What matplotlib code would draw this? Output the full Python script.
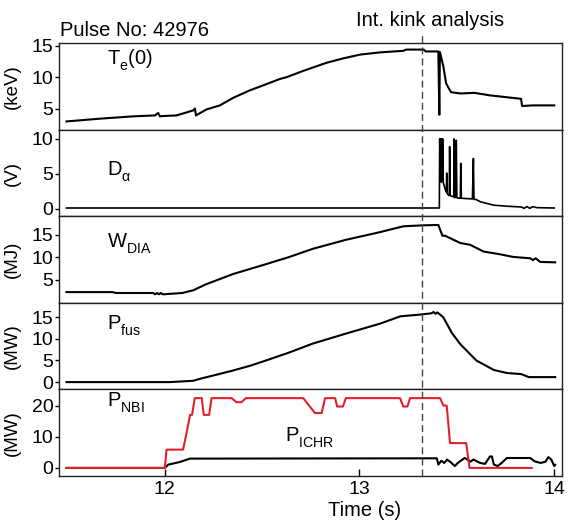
import matplotlib
matplotlib.use("Agg")
import matplotlib.pyplot as plt
from matplotlib.lines import Line2D
from matplotlib.transforms import blended_transform_factory

plt.rcParams['font.family'] = ['Liberation Sans', 'DejaVu Sans']
plt.rcParams['mathtext.fontset'] = 'custom'
plt.rcParams['mathtext.rm'] = 'Liberation Sans'
plt.rcParams['mathtext.it'] = 'Liberation Sans:italic'

# subscripts in the original sit quite low, push them down a bit
try:
    import matplotlib._mathtext as _mt
    _mt.FontConstantsBase.sub1 = 0.55
    _mt.FontConstantsBase.sub2 = 0.75
except Exception:
    pass

# --- data (time in s) ---
te_t = [11.495, 11.666, 11.837, 11.95, 11.966, 11.975, 11.99, 12.06, 12.146, 12.155, 12.16,
        12.214, 12.283, 12.351, 12.437, 12.523, 12.59, 12.626, 12.711, 12.831, 12.917,
        13.003, 13.105, 13.225, 13.24, 13.33, 13.34, 13.405, 13.41, 13.413, 13.418,
        13.431, 13.445, 13.47, 13.52, 13.59, 13.67, 13.77, 13.83, 13.835, 13.89, 14.0]
te_val = [2.94, 3.38, 3.75, 3.9, 4.3, 3.75, 3.8, 3.9, 4.7, 5.0, 3.9,
          4.85, 5.5, 6.7, 7.9, 8.9, 9.7, 10.0, 11.0, 12.3, 13.0,
          13.6, 13.95, 14.2, 14.4, 14.4, 14.1, 14.1, 4.0, 14.0, 13.4,
          11.65, 9.0, 7.6, 7.4, 7.5, 7.1, 6.75, 6.55, 5.4, 5.5, 5.5]

da_t = [11.495, 13.41, 13.412, 13.415, 13.417, 13.42, 13.422, 13.425, 13.427, 13.43,
        13.44, 13.446, 13.448, 13.45, 13.455, 13.461, 13.463, 13.466, 13.472, 13.484,
        13.486, 13.489, 13.495, 13.497, 13.5, 13.51, 13.518, 13.52, 13.523, 13.55,
        13.58, 13.585, 13.588, 13.6, 13.62, 13.69, 13.76, 13.83, 13.845, 13.86,
        13.875, 13.89, 13.91, 14.0]
da_val = [0.1, 0.1, 10, 4.0, 10, 3.8, 10, 4.2, 10, 3.8,
          2.8, 2.4, 5.1, 2.2, 2.0, 1.9, 8.9, 1.9, 1.8, 1.7,
          10, 1.6, 1.6, 9.8, 1.6, 1.5, 1.5, 6.5, 1.5, 1.45,
          1.4, 7.2, 1.35, 1.3, 1.0, 0.5, 0.35, 0.25, 0.05, 0.3,
          0.05, 0.3, 0.15, 0.1]

w_t = [11.495, 11.73, 11.75, 11.94, 11.95, 11.96, 11.97, 11.98, 11.99, 12.09, 12.146,
       12.21, 12.35, 12.52, 12.64, 12.76, 12.93, 13.105, 13.225, 13.32, 13.405,
       13.426, 13.44, 13.517, 13.568, 13.637, 13.72, 13.79, 13.877, 13.89, 13.905,
       13.928, 14.005]
w_val = [2.3, 2.3, 2.1, 2.1, 1.8, 2.1, 1.8, 2.1, 1.8, 2.1, 2.7,
         4.0, 6.3, 8.5, 10.1, 11.9, 13.9, 15.6, 16.9, 17.1, 17.2,
         14.8, 14.8, 13.2, 12.8, 11.3, 10.7, 10.1, 9.8, 9.4, 9.8,
         9.0, 8.9]

pf_t = [11.495, 12.026, 12.146, 12.18, 12.27, 12.35, 12.44, 12.52, 12.64, 12.76,
        12.93, 13.105, 13.21, 13.31, 13.37, 13.38, 13.39, 13.4, 13.43, 13.474,
        13.517, 13.6, 13.69, 13.757, 13.83, 13.87, 14.005]
pf_val = [0.0, 0.0, 0.3, 0.75, 1.76, 2.67, 3.8, 5.0, 6.85, 8.9,
          11.2, 13.5, 15.2, 15.6, 15.9, 16.2, 15.8, 16.1, 15.0, 11.4,
          8.8, 5.0, 2.8, 2.1, 1.85, 1.15, 1.15]

nbi_t = [11.495, 12.0, 12.009, 12.094, 12.11, 12.13, 12.14, 12.154, 12.19, 12.2,
         12.228, 12.24, 12.343, 12.368, 12.394, 12.416, 12.711, 12.771, 12.806, 12.823,
         12.875, 12.885, 12.915, 12.93, 13.208, 13.225, 13.246, 13.26, 13.414, 13.431,
         13.448, 13.465, 13.548, 13.565, 13.885]
nbi_val = [0, 0, 5.9, 5.9, 10.7, 17.1, 17.1, 22.5, 22.5, 17.1,
           17.1, 22.5, 22.5, 21.2, 21.2, 22.5, 22.5, 17.7, 17.7, 22.5,
           22.5, 19.8, 19.8, 22.5, 22.5, 19.8, 19.8, 22.5, 22.5, 20.1,
           20.1, 8.0, 8.0, 0, 0]

ichr_t = [11.495, 12.0, 12.018, 12.077, 12.129, 13.397, 13.405, 13.42, 13.435, 13.45,
          13.465, 13.49, 13.505, 13.52, 13.54, 13.555, 13.57, 13.585, 13.62, 13.645,
          13.67, 13.68, 13.69, 13.71, 13.73, 13.757, 13.877, 13.9, 13.93, 13.955,
          13.97, 13.985, 14.0, 14.005]
ichr_val = [0, 0, 1.06, 1.9, 3.0, 3.1, 1.06, 2.3, 1.6, 2.7,
            2.0, 0.6, 1.6, 2.3, 3.2, 2.7, 2.0, 2.7, 1.6, 1.3,
            3.7, 3.7, 1.1, 0.6, 1.6, 3.2, 3.2, 2.1, 1.6, 2.0,
            3.5, 2.7, 0.6, 1.0]

t_kink = 13.32

panels = [
    ("(keV)", (1.6, 15.4), [5, 10, 15]),
    ("(V)", (-1.1, 11.3), [0, 5, 10]),
    ("(MJ)", (-0.1, 19.1), [5, 10, 15]),
    ("(MW)", (-1.7, 18.3), [0, 5, 10, 15]),
    ("(MW)", (-2.6, 25.3), [0, 10, 20]),
]

fig, axes = plt.subplots(5, 1, sharex=True, figsize=(5.68, 5.23), dpi=100,
                         gridspec_kw=dict(hspace=0))
fig.subplots_adjust(left=0.104, right=0.9894, top=0.9172, bottom=0.0899)

lw = 1.5
axes[0].plot(te_t, te_val, color="black", lw=lw)
axes[1].plot(da_t, da_val, color="black", lw=1.2)
axes[2].plot(w_t, w_val, color="black", lw=lw)
axes[3].plot(pf_t, pf_val, color="black", lw=lw)
axes[4].plot(ichr_t, ichr_val, color="black", lw=lw)
axes[4].plot(nbi_t, nbi_val, color="#e3202c", lw=lw)

for ax, (ylab, ylim, yt) in zip(axes, panels):
    ax.set_ylim(*ylim)
    ax.set_yticks(yt)
    ax.set_ylabel(ylab, fontsize=13.5)
    ax.yaxis.set_label_coords(-0.075, 0.5)
    ax.tick_params(axis="y", direction="out", length=3, width=1, pad=1, labelsize=14)
    ax.tick_params(axis="x", direction="in", length=5, width=1, labelsize=14, pad=3.5)
    for s in ax.spines.values():
        s.set_linewidth(1.0)
        s.set_color("#222222")

for ax in axes[:-1]:
    ax.tick_params(axis="x", length=0)

axes[-1].set_xlim(11.457, 14.04)
axes[-1].set_xticks([12, 13, 14])

# panel labels
fs = 14.5
axes[0].text(0.095, 0.80, r"T$_\mathregular{e}$(0)", transform=axes[0].transAxes, fontsize=fs, va="center")
axes[1].text(0.095, 0.51, r"D$_\mathregular{α}$", transform=axes[1].transAxes, fontsize=fs, va="center")
axes[2].text(0.095, 0.68, r"W$_\mathregular{DIA}$", transform=axes[2].transAxes, fontsize=fs, va="center")
axes[3].text(0.095, 0.73, r"P$_\mathregular{fus}$", transform=axes[3].transAxes, fontsize=fs, va="center")
axes[4].text(0.095, 0.84, r"P$_\mathregular{NBI}$", transform=axes[4].transAxes, fontsize=fs, va="center")
axes[4].text(12.617, 9.5, r"P$_\mathregular{ICHR}$", fontsize=fs, va="center")

# kink marker through all panels
trans = blended_transform_factory(axes[0].transData, fig.transFigure)
fig.add_artist(Line2D([t_kink, t_kink], [1 - 476 / 523, 1 - 33 / 523], transform=trans,
                      color="#444444", lw=1.0, ls=(0, (5, 3))))

fig.text(60 / 568, 1 - 36 / 523, "Pulse No: 42976", fontsize=14.5, va="baseline")
fig.text(430 / 568, 1 - 26 / 523, "Int. kink analysis", fontsize=14.5, va="baseline", ha="center")
fig.text(365 / 568, 1 - 510 / 523, "Time (s)", fontsize=14.5, va="center", ha="center")

fig.savefig("out.png", dpi=100)
